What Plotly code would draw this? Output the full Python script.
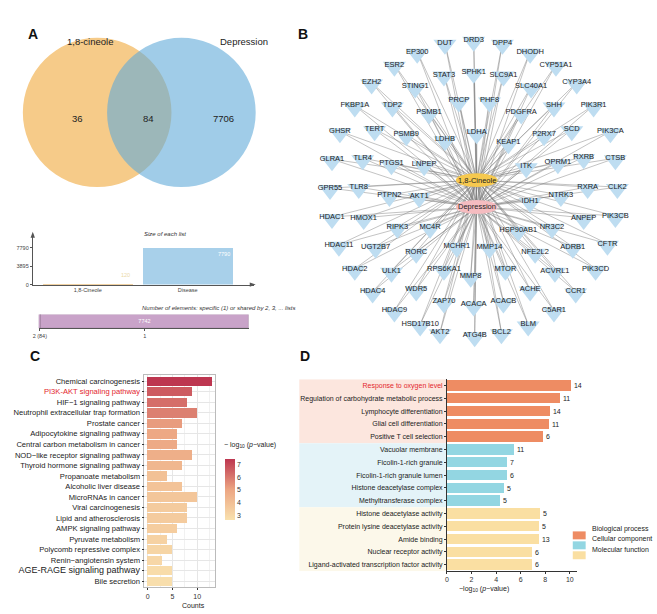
import plotly.graph_objects as go

W, H = 657, 614
FONT = "Liberation Sans, Arial, sans-serif"

# ---------------- Panel A data ----------------
venn_sets = ["1,8-cineole", "Depression"]
venn_counts = [36, 84, 7706]          # cineole only, shared, depression only

list_names = ["1,8-Cineole", "Disease"]
list_sizes = [120, 7790]
list_ticks = [0, 3895, 7790]

shared_labels = ["2 (84)", "1"]
shared_counts = [84, 7742]

# ---------------- Panel B data (network layout coordinates) ----------------
center_names = ["1,8-Cineole", "Depression"]
center_x = [475, 475]
center_y = [181, 208]

gene_names = ["DUT", "DRD3", "DPP4", "DHODH", "EP300", "ESR2", "CYP51A1", "STAT3", "SPHK1", "SLC9A1",
              "EZH2", "STING1", "SLC40A1", "CYP3A4", "FKBP1A", "TDP2", "PRCP", "PHF8", "PSMB1", "PDGFRA",
              "SHH", "PIK3R1", "GHSR", "TERT", "PSMB9", "LDHB", "LDHA", "KEAP1", "P2RX7", "SCD",
              "PIK3CA", "GLRA1", "TLR4", "PTGS1", "LNPEP", "ITK", "OPRM1", "RXRB", "CTSB", "GPR55",
              "TLR8", "PTPN2", "AKT1", "IDH1", "NTRK3", "RXRA", "CLK2", "HDAC1", "HMOX1", "RIPK3",
              "MC4R", "HSP90AB1", "NR3C2", "ANPEP", "PIK3CB", "HDAC11", "UGT2B7", "RORC", "MCHR1", "MMP14",
              "NFE2L2", "ADRB1", "CFTR", "HDAC2", "ULK1", "RPS6KA1", "MMP8", "MTOR", "ACVRL1", "PIK3CD",
              "HDAC4", "WDR5", "ACHE", "CCR1", "HDAC9", "ZAP70", "ACACA", "ACACB", "C5AR1", "HSD17B10",
              "AKT2", "ATG4B", "BCL2", "BLM"]
gene_x = [443, 472, 501, 529, 415, 392, 555, 442, 472, 502,
          369, 413, 530, 576, 352, 390, 457, 488, 427, 520,
          553, 593, 337, 372, 404, 443, 475, 507, 543, 571,
          610, 329, 360, 389, 422, 525, 557, 583, 615, 327,
          356, 387, 417, 529, 560, 587, 617, 329, 361, 395,
          428, 517, 551, 583, 615, 336, 373, 414, 455, 488,
          534, 572, 607, 352, 389, 442, 469, 504, 554, 595,
          370, 414, 529, 575, 392, 442, 472, 502, 553, 418,
          438, 473, 500, 527]
gene_y = [43, 40, 43, 52, 52, 65, 65, 75, 72, 75,
          83, 87, 87, 83, 106, 106, 101, 101, 113, 113,
          106, 106, 132, 130, 135, 140, 133, 143, 135, 130,
          132, 160, 159, 164, 165, 167, 163, 158, 159, 189,
          188, 196, 197, 202, 196, 188, 188, 218, 219, 228,
          228, 231, 228, 219, 217, 246, 248, 253, 247, 248,
          253, 248, 245, 270, 272, 270, 277, 270, 272, 270,
          293, 291, 291, 293, 312, 303, 306, 303, 312, 326,
          334, 337, 334, 326]

# ---------------- Panel C data ----------------
kegg_terms = ["Chemical carcinogenesis", "PI3K-AKT signaling pathway", "HIF\u22121 signaling pathway",
              "Neutrophil extracellular trap formation", "Prostate cancer", "Adipocytokine signaling pathway",
              "Central carbon metabolism in cancer", "NOD\u2212like receptor signaling pathway",
              "Thyroid hormone signaling pathway", "Propanoate metabolism", "Alcoholic liver disease",
              "MicroRNAs in cancer", "Viral carcinogenesis", "Lipid and atherosclerosis",
              "AMPK signaling pathway", "Pyruvate metabolism", "Polycomb repressive complex",
              "Renin\u2212angiotensin system", "AGE-RAGE signaling pathway", "Bile secretion"]
kegg_counts = [13, 9, 8, 10, 7, 6, 6, 9, 7, 4, 7, 10, 8, 8, 6, 4, 5, 3, 5, 5]
kegg_logp = [7.4, 6.6, 6.2, 5.8, 5.2, 4.9, 4.8, 4.6, 4.3, 3.9, 3.8, 3.7, 3.5, 3.5, 3.4, 3.2, 3.1, 3.0, 2.8, 2.7]

# ---------------- Panel D data ----------------
go_terms = ["Response to oxygen level", "Regulation of carbohydrate metabolic process",
            "Lymphocyte differentiation", "Glial cell differentiation", "Positive T cell selection",
            "Vacuolar membrane", "Ficolin-1-rich granule", "Ficolin-1-rich granule lumen",
            "Histone deacetylase complex", "Methyltransferase complex",
            "Histone deacetylase activity", "Protein lysine deacetylase activity", "Amide binding",
            "Nuclear receptor activity", "Ligand-activated transcription factor activity"]
go_logp = [10.1, 9.2, 8.35, 8.3, 7.8, 5.45, 4.85, 4.85, 4.6, 4.35, 7.6, 7.5, 7.45, 6.9, 6.9]
go_counts = [14, 11, 14, 11, 6, 11, 7, 6, 5, 5, 5, 5, 13, 6, 6]
go_class = ["Biological process"] * 5 + ["Cellular component"] * 5 + ["Molecular function"] * 5
go_classes = ["Biological process", "Cellular component", "Molecular function"]

# ---------------- styles ----------------
CLASS_COL = {"Biological process": "#EE8C63", "Cellular component": "#93D6E2", "Molecular function": "#FADFA2"}
BAND_COL = {"Biological process": "#FCE6DE", "Cellular component": "#E4F3F8", "Molecular function": "#FCF8EA"}


def px(x):
    return x / W


def py(y):
    return 1 - y / H


def ppath(points):
    return "M " + " L ".join("%.5f,%.5f" % (px(a), py(b)) for a, b in points) + " Z"


fig = go.Figure()
shapes = []
ann = []

# ================= Panel A: Venn =================
shapes.append(dict(type="circle", xref="paper", yref="paper", x0=px(17), x1=px(167), y0=py(188), y1=py(38),
                   fillcolor="#F6CB89", line=dict(width=0), layer="below"))
shapes.append(dict(type="circle", xref="paper", yref="paper", x0=px(102), x1=px(252), y0=py(188), y1=py(38),
                   fillcolor="rgba(97,170,217,0.6)", line=dict(width=0), layer="below"))
for name, xx in zip(venn_sets, [60, 240]):
    ann.append(dict(x=px(xx), y=py(34), xref="paper", yref="paper", text=name, showarrow=False,
                    font=dict(size=9.5, color="#222")))
for cnt, xx in zip(venn_counts, [65, 136, 207]):
    ann.append(dict(x=px(xx), y=py(112), xref="paper", yref="paper", text=str(cnt), showarrow=False,
                    font=dict(size=9.5, color="#222")))

# ---- Size of each list ----
fig.add_trace(go.Bar(x=[0, 1], y=list_sizes, marker=dict(color=["#E2A446", "#A8D0EA"], line=dict(width=0)),
                     width=0.9, xaxis="x", yaxis="y", showlegend=False, hoverinfo="skip"))
for i, v in enumerate(list_sizes):
    big = v > 4000
    ann.append(dict(x=i + 0.44, y=v, xref="x", yref="y", text=str(v), showarrow=False,
                    xanchor="right", yanchor="top" if big else "bottom", yshift=-1 if big else 4,
                    font=dict(size=5.5, color="white" if big else "#EBD9A8")))
ann.append(dict(x=px(137), y=py(235), xref="paper", yref="paper", text="<i>Size of each list</i>",
                showarrow=False, font=dict(size=6, color="#333")))
# axis arrowheads
shapes.append(dict(type="path", xref="paper", yref="paper", path=ppath([(27, 233), (24.8, 239), (29.2, 239)]),
                   fillcolor="#555", line=dict(width=0)))
shapes.append(dict(type="path", xref="paper", yref="paper", path=ppath([(252, 286), (246, 283.8), (246, 288.2)]),
                   fillcolor="#555", line=dict(width=0)))
shapes.append(dict(type="line", xref="paper", yref="paper", x0=px(250), x1=px(247), y0=py(286), y1=py(286),
                   line=dict(color="#555", width=0.8)))
shapes.append(dict(type="line", xref="paper", yref="paper", x0=px(27), x1=px(27), y0=py(235), y1=py(238),
                   line=dict(color="#555", width=0.8)))

# ---- Shared elements bar ----
base = 0
centers = []
for lab, v in zip(shared_labels, shared_counts):
    big = v > 1000
    fig.add_trace(go.Bar(x=[v], y=[0], base=[base], orientation="h", width=1,
                         marker=dict(color="#C9A3C9", line=dict(color="#8E6E8E", width=0.5)),
                         text=[str(v)] if big else None, textposition="inside" if big else "none",
                         insidetextanchor="middle", textfont=dict(size=5.5, color="white"),
                         xaxis="x2", yaxis="y2", showlegend=False, hoverinfo="skip"))
    centers.append(base + v / 2)
    base += v
ann.append(dict(x=px(135), y=py(310), xref="paper", yref="paper",
                text="<i>Number of elements: specific (1) or shared by 2, 3, ... lists</i>",
                showarrow=False, font=dict(size=6, color="#333")))

# ================= Panel B: network =================
ex, ey = [], []
for gx, gy in zip(gene_x, gene_y):
    for cx, cy in zip(center_x, center_y):
        ex += [gx, cx, None]
        ey += [gy, cy, None]
fig.add_trace(go.Scatter(x=ex, y=ey, mode="lines", line=dict(color="rgba(120,120,120,0.75)", width=0.6),
                         xaxis="x3", yaxis="y3", showlegend=False, hoverinfo="skip"))
fig.add_trace(go.Scatter(x=gene_x, y=[g + 2 for g in gene_y], mode="markers",
                         marker=dict(symbol="triangle-down", size=20, color="#BEDDF1", line=dict(width=0)),
                         xaxis="x3", yaxis="y3", showlegend=False, hoverinfo="skip"))
fig.add_trace(go.Scatter(x=gene_x, y=gene_y, mode="text", text=gene_names, textposition="middle center",
                         textfont=dict(size=7.5, color="#222"),
                         xaxis="x3", yaxis="y3", showlegend=False, hoverinfo="skip"))
node_fill = ["#F6C94F", "#F5BCC0"]
for name, cx, cy, col in zip(center_names, center_x, center_y, node_fill):
    shapes.append(dict(type="circle", xref="x3", yref="y3", x0=cx - 21, x1=cx + 21, y0=cy - 7, y1=cy + 7,
                       fillcolor=col, line=dict(width=0), layer="above"))
    ann.append(dict(x=cx, y=cy, xref="x3", yref="y3", text=name, showarrow=False,
                    font=dict(size=7.5, color="#222")))

# ================= Panel C: KEGG =================
ticktxt_c = []
for t in kegg_terms:
    if t.startswith("PI3K"):
        ticktxt_c.append('<span style="color:#E3262E">' + t + "</span>")
    elif t.startswith("AGE"):
        ticktxt_c.append('<span style="font-size:9px">' + t + "</span>")
    else:
        ticktxt_c.append(t)
fig.add_trace(go.Bar(y=kegg_terms, x=kegg_counts, orientation="h", width=0.88,
                     marker=dict(color=kegg_logp, cmin=2.6, cmax=7.4,
                                 colorscale=[[0, "#F9E1AE"], [0.5, "#ECA582"], [1, "#BD3650"]],
                                 line=dict(width=0),
                                 colorbar=dict(x=px(221), xanchor="left", y=py(523), yanchor="bottom",
                                               len=(523 - 462) / H, lenmode="fraction", thickness=10,
                                               tickvals=[3, 4, 5, 6, 7], ticks="", outlinewidth=0,
                                               tickfont=dict(size=7, color="#333"), xpad=0, ypad=0)),
                     xaxis="x4", yaxis="y4", showlegend=False, hoverinfo="skip"))
ann.append(dict(x=px(218), y=py(453), xref="paper", yref="paper", xanchor="left",
                text="\u2212 log<sub>10</sub> (<i>p</i>\u2212value)", showarrow=False,
                font=dict(size=7, color="#222")))
ann.append(dict(x=px(176), y=py(603), xref="paper", yref="paper", text="Counts", showarrow=False,
                yanchor="top", font=dict(size=7, color="#222")))

# ================= Panel D: GO =================
for cl in go_classes:
    idx = [i for i, c in enumerate(go_class) if c == cl]
    shapes.append(dict(type="rect", xref="paper", yref="y5", x0=px(296), x1=px(445),
                       y0=min(idx) - 0.5, y1=max(idx) + 0.5, fillcolor=BAND_COL[cl],
                       line=dict(width=0), layer="below"))
ticktxt_d = ['<span style="color:#E3262E">' + t + "</span>" if i == 0 else t for i, t in enumerate(go_terms)]
fig.add_trace(go.Bar(y=go_terms, x=go_logp, orientation="h", width=0.82,
                     marker=dict(color=[CLASS_COL[c] for c in go_class], line=dict(width=0)),
                     text=[str(c) for c in go_counts], textposition="outside", cliponaxis=False,
                     textfont=dict(size=7, color="#222"),
                     xaxis="x5", yaxis="y5", showlegend=False, hoverinfo="skip"))
ann.append(dict(x=px(510), y=py(586), xref="paper", yref="paper", yanchor="top",
                text="\u2212log<sub>10</sub> (<i>p</i>\u2212value)", showarrow=False,
                font=dict(size=7, color="#222")))
for k, cl in enumerate(go_classes):
    yy = 538 + 10 * k
    shapes.append(dict(type="rect", xref="paper", yref="paper", x0=px(572), x1=px(585),
                       y0=py(yy + 4), y1=py(yy - 4), fillcolor=CLASS_COL[cl], line=dict(width=0)))
    ann.append(dict(x=px(589), y=py(yy), xref="paper", yref="paper", xanchor="left", text=cl,
                    showarrow=False, font=dict(size=7, color="#222")))

# ================= Panel letters =================
for lab, xx, yy in [("A", 20, 24), ("B", 300, 24), ("C", 22, 358), ("D", 302, 358)]:
    ann.append(dict(x=px(xx), y=py(yy), xref="paper", yref="paper", text="<b>" + lab + "</b>",
                    showarrow=False, font=dict(size=14, color="#111")))

small = dict(size=5.5, color="#444")
fig.update_layout(
    width=W, height=H, margin=dict(l=0, r=0, t=0, b=0),
    paper_bgcolor="white", plot_bgcolor="rgba(0,0,0,0)",
    font=dict(family=FONT, color="#222"),
    bargap=0, barmode="overlay",
    shapes=shapes, annotations=ann,
    xaxis=dict(domain=[px(27), px(250)], range=[-0.55, 1.66], tickvals=[0, 1], ticktext=list_names,
               showline=True, linecolor="#555", linewidth=0.8, ticks="", tickfont=small,
               showgrid=False, zeroline=False, anchor="y", fixedrange=True),
    yaxis=dict(domain=[py(286), py(235)], range=[0, 10737], tickvals=list_ticks,
               showline=True, linecolor="#555", linewidth=0.8, ticks="outside", ticklen=2,
               tickcolor="#555", tickfont=small, showgrid=False, zeroline=False, anchor="x"),
    xaxis2=dict(domain=[px(33), px(245)], range=[0, sum(shared_counts)], tickvals=centers,
                ticktext=shared_labels, showline=True, linecolor="#555", linewidth=0.6, ticks="outside",
                ticklen=2, tickcolor="#555", tickfont=small, showgrid=False, zeroline=False, anchor="y2"),
    yaxis2=dict(domain=[py(330), py(316)], range=[-0.5, 0.5], visible=False, anchor="x2"),
    xaxis3=dict(domain=[px(300), 1], range=[300, 657], visible=False, anchor="y3"),
    yaxis3=dict(domain=[py(352), py(18)], range=[352, 18], visible=False, anchor="x3"),
    xaxis4=dict(domain=[px(139.75), px(211.25)], range=[-0.65, 13.65], tickvals=[0, 5, 10],
                showgrid=True, gridcolor="#E6E6E6", gridwidth=0.6,
                minor=dict(dtick=2.5, tick0=0, showgrid=True, gridcolor="#F1F1F1", gridwidth=0.4),
                showline=True, mirror=True, linecolor="#BBBBBB", linewidth=0.8,
                ticks="outside", ticklen=2, tickcolor="#333", tickfont=dict(size=7, color="#333"),
                zeroline=False, anchor="y4"),
    yaxis4=dict(domain=[py(590.3), py(376.7)], type="category", categoryorder="array",
                categoryarray=kegg_terms, tickvals=kegg_terms, ticktext=ticktxt_c, range=[19.6, -0.6],
                showgrid=True, gridcolor="#E6E6E6", gridwidth=0.6, showline=True, mirror=True,
                linecolor="#BBBBBB", linewidth=0.8, ticks="outside", ticklen=2, tickcolor="#333",
                tickfont=dict(size=7.6, color="#222"), anchor="x4"),
    xaxis5=dict(domain=[px(445), px(576)], range=[0, 10.56], tickvals=[0, 2, 4, 6, 8, 10],
                showline=True, linecolor="#333", linewidth=0.8, ticks="outside", ticklen=2,
                tickcolor="#333", tickfont=dict(size=7, color="#333"), showgrid=False, zeroline=False,
                anchor="y5"),
    yaxis5=dict(domain=[py(574), py(381)], type="category", categoryorder="array", categoryarray=go_terms,
                tickvals=go_terms, ticktext=ticktxt_d, range=[14.5, -0.5], showline=True,
                linecolor="#333", linewidth=0.8, ticks="outside", ticklen=2, tickcolor="#333",
                tickfont=dict(size=7, color="#222"), showgrid=False, anchor="x5"),
)

fig.write_html("out.html", config={"displayModeBar": False},
               post_script="document.body.style.margin='0px';")
